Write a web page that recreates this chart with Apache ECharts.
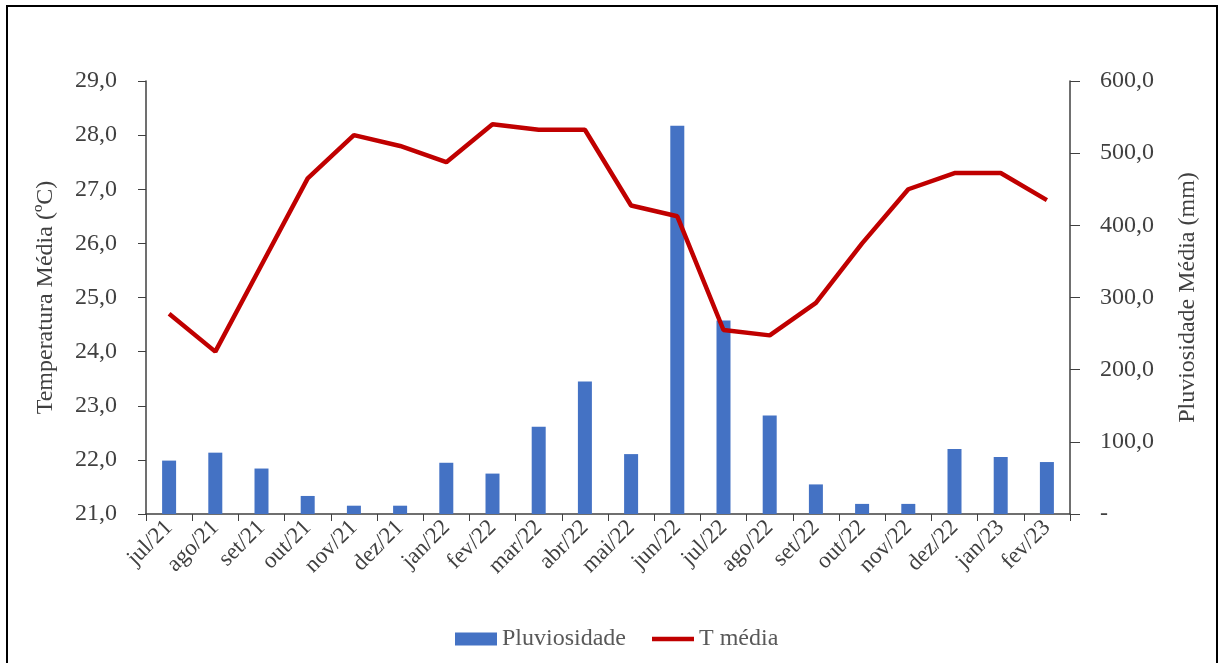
<!DOCTYPE html>
<html>
<head>
<meta charset="utf-8">
<script src="https://cdn.jsdelivr.net/npm/echarts@6/dist/echarts.min.js"></script>
<style>
  html, body { margin: 0; padding: 0; background: #fff; }
  #chart { width: 1219px; height: 663px; }
</style>
</head>
<body>
<div id="chart"></div>
<script>
// Months (jul/2021 – fev/2023)
const months = ['jul/21','ago/21','set/21','out/21','nov/21','dez/21','jan/22','fev/22','mar/22','abr/22',
                'mai/22','jun/22','jul/22','ago/22','set/22','out/22','nov/22','dez/22','jan/23','fev/23'];
// Monthly rainfall (mm)
const rainfall = [74, 85, 63, 25, 11.5, 11.5, 71, 56, 121, 183.5,
                  83, 538, 268, 136.5, 41, 14, 14, 90, 79, 72];
// Mean temperature (°C)
const meanTemp = [24.7, 24.0, 25.6, 27.2, 28.0, 27.8, 27.5, 28.2, 28.1, 28.1,
                  26.7, 26.5, 24.4, 24.3, 24.9, 26.0, 27.0, 27.3, 27.3, 26.8];

const FONT = 'Liberation Serif';
const TEXT = '#404040';
const AXIS = '#404040';
const comma = v => v.toFixed(1).replace('.', ',');

const chart = echarts.init(document.getElementById('chart'));
chart.setOption({
  animation: false,
  backgroundColor: '#fff',
  textStyle: { fontFamily: FONT },
  graphic: [{
    type: 'rect',
    shape: { x: 7, y: 6, width: 1210, height: 700 },
    style: { fill: 'none', stroke: '#000', lineWidth: 2 },
    silent: true
  }],
  grid: { left: 146, right: 149, top: 81, bottom: 149 },
  legend: {
    left: 450, top: 622,
    itemWidth: 42, itemHeight: 13, itemGap: 26,
    textStyle: { fontFamily: FONT, fontSize: 24, color: '#595959' },
    data: [
      { name: 'Pluviosidade', icon: 'rect' },
      // plain stroke for the temperature series, no marker dot
      { name: 'T média', icon: 'path://M0,0h42v4.5h-42z', itemStyle: { color: '#C00000' } }
    ]
  },
  xAxis: {
    type: 'category',
    data: months,
    boundaryGap: true,
    axisLine: { lineStyle: { color: AXIS, width: 1.5 } },
    axisTick: { show: true, length: 7, alignWithLabel: false, lineStyle: { color: AXIS } },
    axisLabel: { rotate: 45, interval: 0, margin: 10, fontFamily: FONT, fontSize: 23, color: TEXT }
  },
  yAxis: [{
    type: 'value',
    min: 21, max: 29, interval: 1,
    name: 'Temperatura Média (ºC)',
    nameLocation: 'middle', nameGap: 88,
    nameTextStyle: { fontFamily: FONT, fontSize: 24, color: TEXT },
    axisLine: { show: true, lineStyle: { color: AXIS, width: 1.5 } },
    axisTick: { show: true, length: 8, lineStyle: { color: AXIS } },
    splitLine: { show: false },
    axisLabel: { margin: 29, fontFamily: FONT, fontSize: 24, color: TEXT, formatter: v => comma(v) }
  }, {
    type: 'value',
    min: 0, max: 600, interval: 100,
    position: 'right',
    name: 'Pluviosidade Média (mm)',
    nameLocation: 'middle', nameGap: 106,
    nameTextStyle: { fontFamily: FONT, fontSize: 24, color: TEXT },
    axisLine: { show: true, lineStyle: { color: AXIS, width: 1.5 } },
    axisTick: { show: true, length: 10, lineStyle: { color: AXIS } },
    splitLine: { show: false },
    axisLabel: { margin: 30, fontFamily: FONT, fontSize: 24, color: TEXT,
                 formatter: v => (v === 0 ? '-' : comma(v)) }
  }],
  series: [{
    name: 'Pluviosidade',
    type: 'bar',
    yAxisIndex: 1,
    data: rainfall,
    barWidth: 14,
    itemStyle: { color: '#4472C4' }
  }, {
    name: 'T média',
    type: 'line',
    yAxisIndex: 0,
    data: meanTemp,
    symbol: 'none',
    lineStyle: { color: '#C00000', width: 4.5 },
    itemStyle: { color: '#C00000' }
  }]
});
</script>
</body>
</html>
